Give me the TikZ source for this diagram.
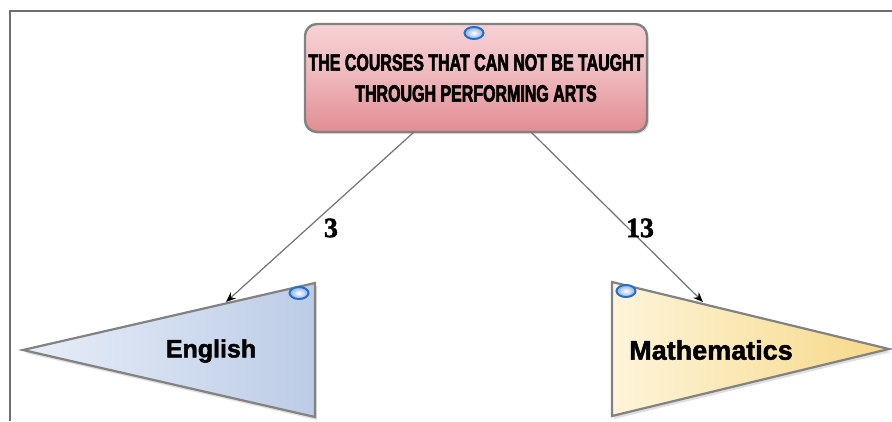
\documentclass[tikz,border=0pt]{standalone}
\usepackage{fontspec}
\setmainfont{Liberation Sans}
\newfontfamily\condfont[FakeStretch=0.68,FakeBold=2.5]{Liberation Sans}
\newfontfamily\headfont[FakeBold=1.8]{Liberation Sans}
\newfontfamily\numfont[FakeBold=1.5]{Liberation Serif}
\usetikzlibrary{arrows.meta,shadows,shapes.geometric}
\definecolor{framegray}{RGB}{110,110,110}
\definecolor{edgegray}{RGB}{130,130,130}
\definecolor{pinkA}{RGB}{246,210,213}
\definecolor{pinkB}{RGB}{225,140,146}
\definecolor{blueA}{RGB}{232,238,248}
\definecolor{blueB}{RGB}{188,204,230}
\definecolor{yelA}{RGB}{253,244,218}
\definecolor{yelB}{RGB}{246,216,135}
\definecolor{dotblue}{RGB}{40,110,200}
\tikzset{
  mainbox/.style={draw=edgegray, line width=2.4pt, rounded corners=12pt,
    minimum width=342pt, minimum height=108pt, inner sep=0pt,
    top color=pinkA, bottom color=pinkB, middle color=pinkA!60!pinkB,
    drop shadow={opacity=0.25, shadow xshift=2pt, shadow yshift=-2pt},
    align=center, font=\condfont\bfseries\fontsize{23.5}{31}\selectfont},
  tri/.style={draw=edgegray, line width=2.2pt, line join=miter,
    drop shadow={opacity=0.25, shadow xshift=2pt, shadow yshift=-3pt}},
  conn/.style={draw=black!55, line width=1.2pt, -{Stealth[length=10pt,width=8pt,black]}},
  numlabel/.style={font=\numfont\bfseries\fontsize{28}{28}\selectfont, inner sep=0pt},
  triname/.style={font=\headfont\bfseries, inner sep=0pt},
  knob/.style={ellipse, minimum width=19pt, minimum height=12pt, inner sep=0pt,
    draw=dotblue, line width=2pt, inner color=white, outer color=dotblue!55},
}
\begin{document}
\begin{tikzpicture}[x=1pt,y=-1pt]
\useasboundingbox (0,0) rectangle (892,421);
\fill[white] (0,0) rectangle (892,421);
% frame
\draw[framegray, line width=1.1pt] (10,421) -- (10,11) -- (892,11);

% top box
\node[mainbox] (top) at (476,78) {THE COURSES THAT CAN NOT BE TAUGHT\\THROUGH PERFORMING ARTS};
\node[knob] (k0) at (474,33) {};

% English triangle
\coordinate (eT) at (315,283);
\coordinate (eB) at (315,417);
\coordinate (eL) at (23,350);
\path[tri, left color=blueA, right color=blueB] (eL) -- (eT) -- (eB) -- cycle;
\node[knob] (k1) at (299,293) {};
\node[triname, font=\headfont\bfseries\fontsize{25}{25}\selectfont] (eng) at (211,351) {English};

% Mathematics triangle
\coordinate (mT) at (612,282);
\coordinate (mB) at (612,416);
\coordinate (mR) at (889,349);
\path[tri, left color=yelA, right color=yelB] (mT) -- (mR) -- (mB) -- cycle;
\node[knob] (k2) at (626,291) {};
\node[triname, font=\headfont\bfseries\fontsize{27}{27}\selectfont] (math) at (711,350) {Mathematics};

% connectors
\coordinate (s1) at (414,132);
\coordinate (e1) at (226,302);
\coordinate (s2) at (531,132);
\coordinate (e2) at (703,302);
\draw[conn] (s1) -- (e1);
\draw[conn] (s2) -- (e2);
\node[numlabel] (n1) at (331,228) {3};
\node[numlabel] (n2) at (640,228) {13};
\end{tikzpicture}
\end{document}
